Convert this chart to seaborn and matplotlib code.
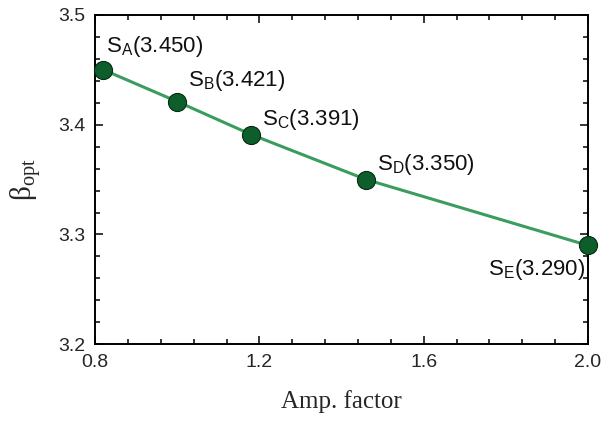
import matplotlib
matplotlib.use("Agg")
import matplotlib.pyplot as plt
import seaborn as sns
import pandas as pd
from matplotlib.ticker import MultipleLocator

# data
amp_factor = [0.82, 1.00, 1.18, 1.46, 2.00]
beta_opt = [3.450, 3.421, 3.391, 3.350, 3.290]
labels = ["A", "B", "C", "D", "E"]

df = pd.DataFrame({"amp": amp_factor, "beta": beta_opt, "name": labels})

sns.set_theme(style="ticks")
plt.rcParams["font.family"] = ["Liberation Sans", "DejaVu Sans"]
plt.rcParams["mathtext.fontset"] = "custom"
plt.rcParams["mathtext.rm"] = "Liberation Serif"
plt.rcParams["mathtext.sf"] = "Liberation Sans"

fig, ax = plt.subplots(figsize=(6.1, 4.25), dpi=100)
sns.lineplot(data=df, x="amp", y="beta", color="#3a9c5e", linewidth=2.2, ax=ax, zorder=2)
sns.scatterplot(data=df, x="amp", y="beta", color="#0e5e2b", edgecolor="#062a12",
                linewidth=0.8, s=170, ax=ax, zorder=3, clip_on=False)

# label offsets (points)
offsets = {"A": (2, 8, "left"), "B": (8, 6, "left"), "C": (8, 2, "left"),
           "D": (8, 2, "left"), "E": (-2, -26, "right")}
for _, r in df.iterrows():
    dx, dy, ha = offsets[r["name"]]
    ax.annotate(rf"S$_{{\mathsf{{{r['name']}}}}}$({r['beta']:.3f})", (r["amp"], r["beta"]),
                xytext=(dx, dy), textcoords="offset points", ha=ha, va="bottom",
                fontsize=16, color="#111111")

ax.set_xlim(0.8, 2.0)
ax.set_ylim(3.2, 3.5)
ax.xaxis.set_major_locator(MultipleLocator(0.4))
ax.xaxis.set_minor_locator(MultipleLocator(0.08))
ax.yaxis.set_major_locator(MultipleLocator(0.1))
ax.yaxis.set_minor_locator(MultipleLocator(0.02))
ax.tick_params(which="both", direction="in", top=True, right=True, labelsize=14, width=1.3)
ax.tick_params(which="major", length=6, pad=7)
ax.tick_params(which="minor", length=3.5)
ax.set_xticklabels([f"{v:.1f}" for v in ax.get_xticks()])
ax.set_yticklabels([f"{v:.1f}" for v in ax.get_yticks()])
for sp in ax.spines.values():
    sp.set_linewidth(1.4)
    sp.set_color("black")

ax.set_xlabel("Amp. factor", fontfamily="Liberation Serif", fontsize=18, labelpad=14)
ax.set_ylabel(r"β$_{\mathrm{opt}}$", fontfamily="Liberation Serif", fontsize=21, labelpad=10)

fig.subplots_adjust(left=0.156, right=0.964, top=0.965, bottom=0.19)
fig.savefig("out.png", dpi=100)
